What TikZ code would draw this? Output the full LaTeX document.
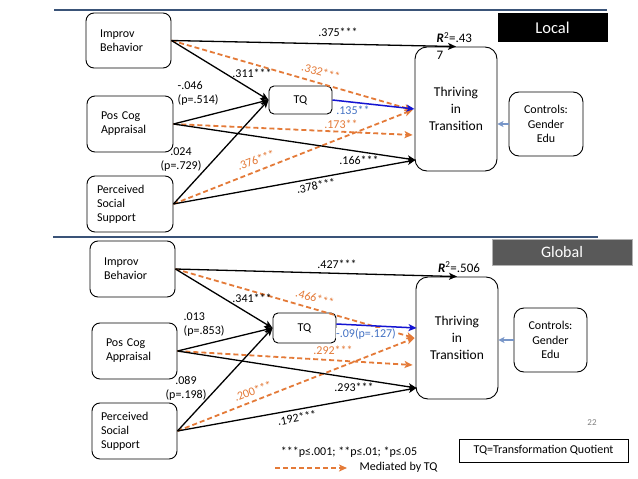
\documentclass[tikz,border=0pt]{standalone}
\usepackage{fontspec}
\setmainfont{Carlito}
\usetikzlibrary{arrows.meta,calc}
\definecolor{orng}{RGB}{228,122,56}
\definecolor{blu}{RGB}{20,20,210}
\definecolor{blutxt}{RGB}{68,114,196}
\definecolor{ctrlc}{RGB}{120,150,200}
\definecolor{rulec}{RGB}{58,83,120}
\definecolor{gbox}{RGB}{89,89,89}
\begin{document}
\begin{tikzpicture}[x=1pt,y=-1pt,
  vbox/.style={draw=black, line width=0.9pt, rounded corners=8pt, inner ysep=2pt,
    font=\fontsize{12}{14}\selectfont, align=left},
  lbl/.style={font=\fontsize{12}{14}\selectfont, inner sep=0.5pt},
  olbl/.style={lbl, text=orng},
  blk/.style={draw=black, line width=1.3pt, -{Stealth[length=8pt,width=7pt,inset=2pt]}},
  orn/.style={draw=orng, line width=1.8pt, dash pattern=on 5pt off 3pt,
    -{Stealth[length=8pt,width=7pt,inset=2pt]}},
  bla/.style={draw=blu, line width=1.5pt, -{Stealth[length=8pt,width=7pt,inset=2pt]}},
  cta/.style={draw=ctrlc, line width=1.8pt, -{Stealth[length=6pt,width=6pt,inset=1.5pt]}},
  rulel/.style={draw=rulec, line width=2pt}
]
\useasboundingbox (0,0) rectangle (638,479);
\fill[white] (0,0) rectangle (638,479);

% rules
\draw[rulel] (54,10) -- (607,10);
\draw[rulel] (53,237) -- (598,237);

% ---------------- top panel (Local)
\node[fill=black, minimum width=110pt, minimum height=29pt, inner sep=0pt,
  text=white, font=\fontsize{16.5}{18}\selectfont] (local) at (552.5,27.5) {Local};

\node[vbox, text width=57pt, inner xsep=14pt, minimum height=55pt] (ib1) at (128.5,40.5) {Improv\\Behavior};
\node[vbox, text width=58pt, inner xsep=14pt, minimum height=56pt] (pc1) at (130,124) {Pos Cog\\Appraisal};
\node[vbox, text width=66pt, inner xsep=10pt, minimum height=56pt] (ps1) at (130,204) {Perceived\\Social\\Support};
\node[vbox, rounded corners=5pt, minimum width=63pt, minimum height=28pt, align=center] (tq1) at (300.5,100) {TQ};
\node[vbox, rounded corners=12pt, minimum width=82pt, minimum height=124pt, align=center,
  font=\fontsize{13.5}{17}\selectfont] (th1) at (456,109) {Thriving\\in\\Transition};
\node[vbox, rounded corners=10pt, minimum width=74pt, minimum height=64pt, align=center,
  font=\fontsize{12}{14.5}\selectfont] (ct1) at (546,124) {Controls:\\Gender\\Edu};

\coordinate (t1b) at ($(th1.west)+(-2,1)$);
\coordinate (t1c) at ($(th1.west)+(-2,26)$);
\coordinate (t1d) at ($(th1.west)+(1,51)$);

\draw[orn] (ib1.east) -- (t1b);
\draw[orn] (pc1.east) -- (t1c);
\draw[orn] (ps1.east) -- (t1b);
\draw[blk] (ib1.east) -- (th1.north);
\draw[blk] (ib1.east) -- (tq1.west);
\draw[blk] (pc1.east) -- (tq1.west);
\draw[blk] (ps1.east) -- (tq1.west);
\draw[blk] (pc1.east) -- (t1d);
\draw[blk] (ps1.east) -- (t1d);
\draw[bla] (tq1.east) -- (th1.west);
\draw[cta] (ct1.west) -- (ct1.west -| th1.east);

\node[lbl] (l375) at (338,32) {.375***};
\node[lbl] (l311) at (252,73) {.311***};
\node[olbl, rotate=-16] (l332) at (321,72) {.332***};
\node[lbl, anchor=west, align=left] (l046) at (177,93) {-.046\\(p=.514)};
\node[lbl, align=center] (l024) at (181,160) {.024\\(p=.729)};
\node[olbl, rotate=21] (l376) at (256,160) {.376***};
\node[lbl] (l166) at (359,160) {.166***};
\node[lbl, rotate=10] (l378) at (316,186) {.378***};
\node[olbl] (l173) at (341,124) {.173**};
\node[lbl, text=blutxt, fill=white] (l135) at (353,110) {.135**};
\node[lbl, anchor=north west, align=left, font=\fontsize{13}{16.5}\selectfont] (r21) at (436,32)
  {\textbf{\textit{R}}\textsuperscript{2}=.43\\7};

% ---------------- bottom panel (Global)
\node[fill=gbox, draw=gray!60, minimum width=140pt, minimum height=26pt, inner sep=0pt,
  text=white, font=\fontsize{16}{18}\selectfont] (global) at (562,252) {Global};

\node[vbox, text width=57pt, inner xsep=14pt, minimum height=56pt] (ib2) at (132.5,269) {Improv\\Behavior};
\node[vbox, text width=57pt, inner xsep=14pt, minimum height=56pt] (pc2) at (134.5,351) {Pos Cog\\Appraisal};
\node[vbox, text width=67pt, inner xsep=9pt, minimum height=56pt] (ps2) at (134.5,431) {Perceived\\Social\\Support};
\node[vbox, rounded corners=5pt, minimum width=63pt, minimum height=30pt, align=center] (tq2) at (304.5,328) {TQ};
\node[vbox, rounded corners=12pt, minimum width=82pt, minimum height=122pt, align=center,
  font=\fontsize{13.5}{17}\selectfont] (th2) at (457,338) {Thriving\\in\\Transition};
\node[vbox, rounded corners=10pt, minimum width=73pt, minimum height=64pt, align=center,
  font=\fontsize{12}{14.5}\selectfont] (ct2) at (550.5,340) {Controls:\\Gender\\Edu};

\coordinate (t2a) at ($(th2.west)+(1,-10)$);
\coordinate (t2b) at ($(th2.west)+(-1,0)$);
\coordinate (t2c) at ($(th2.west)+(-3,27)$);
\coordinate (t2d) at ($(th2.west)+(1,50)$);
\coordinate (tq2o) at ($(tq2.east)+(0,-4)$);

\draw[orn] (ib2.east) -- (t2b);
\draw[orn] (pc2.east) -- (t2c);
\draw[orn] (ps2.east) -- (t2b);
\draw[blk] (ib2.east) -- (th2.north);
\draw[blk] (ib2.east) -- (tq2.west);
\draw[blk] (pc2.east) -- (tq2.west);
\draw[blk] (ps2.east) -- (tq2.west);
\draw[blk] (pc2.east) -- (t2d);
\draw[blk] (ps2.east) -- (t2d);
\draw[bla] (tq2o) -- (t2a);
\draw[cta] (ct2.west) -- (ct2.west -| th2.east);

\node[lbl] (l427) at (337,264) {.427***};
\node[lbl] (l341) at (252,298) {.341***};
\node[olbl, rotate=-16] (l466) at (315,298) {.466***};
\node[lbl, anchor=west, align=left] (l013) at (183,325) {.013\\(p=.853)};
\node[lbl, align=center] (l089) at (186,388) {.089\\(p=.198)};
\node[olbl, rotate=21] (l200) at (253,391) {.200***};
\node[lbl, rotate=10] (l192) at (297,418) {.192***};
\node[olbl] (l292) at (333,350) {.292***};
\node[lbl, text=blutxt, fill=white] (l09) at (366,334) {-.09(p=.127)};
\node[lbl] (l293) at (354,387) {.293***};
\node[lbl, font=\fontsize{13}{16}\selectfont] (r22) at (459,267)
  {\textbf{\textit{R}}\textsuperscript{2}=.506};

% ---------------- legend
\node[lbl, text=gray, font=\fontsize{9}{10}\selectfont] (pg) at (592,423) {22};
\node[lbl] (sig) at (349,452) {***p≤.001; **p≤.01; *p≤.05};
\coordinate (lg1) at (275,468);
\coordinate (lg2) at (347,468);
\draw[orn] (lg1) -- (lg2);
\node[lbl, anchor=west] (med) at (359,467) {Mediated by TQ};
\node[draw=black, line width=0.8pt, minimum width=169pt, minimum height=23pt, inner sep=0pt,
  font=\fontsize{12}{14}\selectfont] (tqdef) at (543.5,450.5) {TQ=Transformation Quotient};
\end{tikzpicture}
\end{document}
